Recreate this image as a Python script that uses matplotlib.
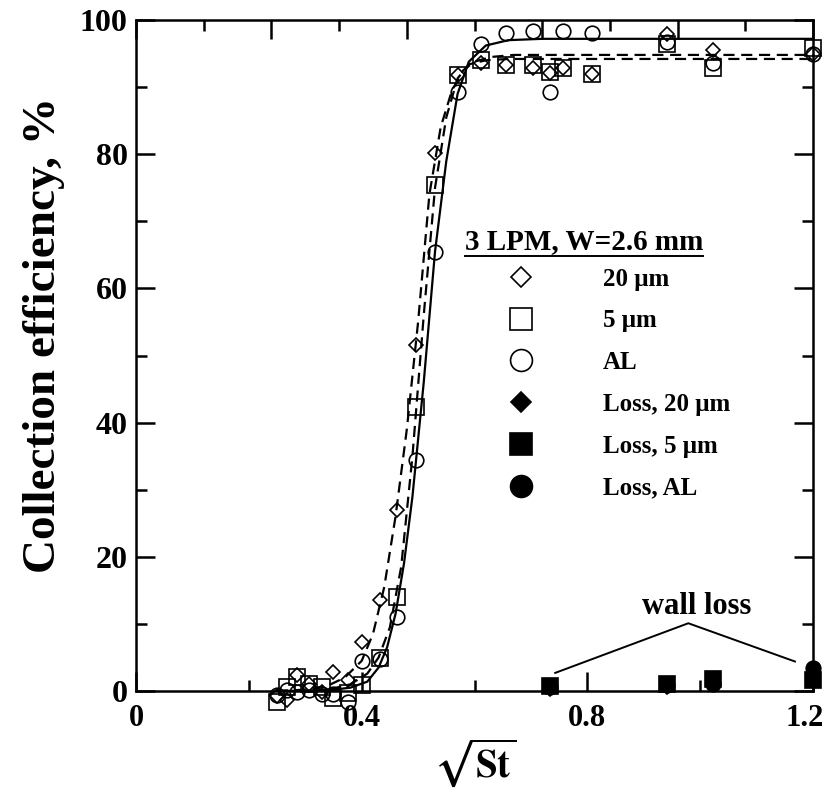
import matplotlib
matplotlib.use("Agg")
import matplotlib.pyplot as plt
from matplotlib.ticker import MultipleLocator
from matplotlib.lines import Line2D
from matplotlib.transforms import ScaledTranslation

plt.rcParams['font.family'] = ['Liberation Serif', 'DejaVu Serif']
plt.rcParams['font.weight'] = 'bold'
plt.rcParams['mathtext.fontset'] = 'stix'

## DATA
# sqrt(St) of the test points
st_root = [0.249, 0.267, 0.285, 0.307, 0.329, 0.350, 0.375, 0.400, 0.432, 0.462, 0.496,
           0.530, 0.571, 0.611, 0.656, 0.704, 0.734, 0.756, 0.809, 0.941, 1.023, 1.200]
eff_20um = [-0.8, -1.3, 2.4, 1.1, -0.1, 2.9, 1.6, 7.3, 13.5, 27.0, 51.6,
            80.2, 91.8, 93.6, 93.3, 92.8, 92.1, 92.9, 92.0, 97.9, 95.6, 95.0]
eff_5um = [-1.6, 0.6, 2.1, 1.1, 0.6, -1.1, -0.3, 0.9, 4.9, 14.0, 42.4,
           75.4, 91.8, 94.0, 93.3, 93.3, 92.3, 92.9, 92.0, 96.5, 92.8, 95.8]
eff_al = [-0.6, 0.2, -0.1, 0.1, -0.5, -0.5, -1.6, 4.4, 4.8, 11.0, 34.4,
          65.5, 89.3, 96.5, 98.0, 98.3, 89.3, 98.3, 98.1, 96.8, 93.6, 95.0]

# wall loss
loss_x = [0.734, 0.941, 1.023, 1.200]
loss_20um = [0.3, 0.6, 1.2, 2.0]
loss_5um = [0.8, 1.0, 1.8, 1.6]
loss_al = [0.6, 0.9, 1.1, 3.4]

# fitted curves
fit_al_x = [0.25, 0.30, 0.35, 0.38, 0.41, 0.43, 0.445, 0.46, 0.475, 0.49, 0.51,
            0.53, 0.55, 0.57, 0.59, 0.62, 0.66, 0.72, 0.80, 1.20]
fit_al_y = [0.0, 0.05, 0.2, 0.5, 1.4, 3.5, 6.5, 11.5, 19.0, 29.0, 46.0,
            65.5, 79.0, 89.0, 93.8, 96.2, 97.0, 97.2, 97.2, 97.2]
fit_20_x = [0.25, 0.30, 0.34, 0.37, 0.40, 0.42, 0.44, 0.46, 0.48, 0.50,
            0.52, 0.54, 0.56, 0.58, 0.60, 0.63, 0.67, 0.75, 1.20]
fit_20_y = [0.0, 0.2, 0.8, 2.0, 4.5, 8.5, 15.5, 26.0, 39.0, 55.0,
            74.0, 84.0, 89.5, 92.5, 93.8, 94.5, 94.8, 94.8, 94.8]
fit_5_x = [0.25, 0.30, 0.35, 0.38, 0.41, 0.43, 0.45, 0.47, 0.49, 0.51,
           0.53, 0.55, 0.57, 0.59, 0.62, 0.66, 0.75, 1.20]
fit_5_y = [0.0, 0.1, 0.4, 1.0, 2.6, 5.0, 9.5, 18.5, 35.0, 56.0,
           75.0, 85.5, 91.3, 93.4, 94.0, 94.2, 94.2, 94.2]

x_ticks = [0, 0.4, 0.8, 1.2]
x_ticklabels = ["0", "0.4", "0.8", "1.2"]

legend_title = "3 LPM, W=2.6 mm"
labels = ["20 \u03bcm", "5 \u03bcm", "AL", "Loss, 20 \u03bcm", "Loss, 5 \u03bcm", "Loss, AL"]

# "wall loss" note: text spot and the two leader lines
note_xy = (0.994, 12.6)
note_lines_x = [0.743, 0.979, 1.168]
note_lines_y = [2.7, 10.1, 4.4]

fig = plt.figure(figsize=(8.3, 7.92), dpi=100)
ax = fig.add_axes([0.1639, 0.1275, 0.8156, 0.8472])

ax.plot(fit_20_x, fit_20_y, 'k', lw=1.6, dashes=(5, 3))
ax.plot(fit_5_x, fit_5_y, 'k', lw=1.6, dashes=(5, 3))
ax.plot(fit_al_x, fit_al_y, 'k-', lw=1.6)

mk = dict(ls='none', mec='k', mew=1.2, clip_on=False)
h1, = ax.plot(st_root, eff_20um, 'D', ms=7, mfc='none', label=labels[0], **mk)
h2, = ax.plot(st_root, eff_5um, 's', ms=11, mfc='none', label=labels[1], **mk)
h3, = ax.plot(st_root, eff_al, 'o', ms=10.5, mfc='none', label=labels[2], **mk)
h4, = ax.plot(loss_x, loss_20um, 'D', ms=7, mfc='k', label=labels[3], **mk)
h5, = ax.plot(loss_x, loss_5um, 's', ms=11, mfc='k', label=labels[4], **mk)
h6, = ax.plot(loss_x, loss_al, 'o', ms=10.5, mfc='k', label=labels[5], **mk)

ax.plot(note_lines_x, note_lines_y, 'k-', lw=1.4)
ax.text(note_xy[0], note_xy[1], "wall loss", ha='center', va='center', fontsize=22, fontweight='bold')

ax.set_xlim(0, 1.2)
ax.set_ylim(0, 100)
ax.set_xticks(x_ticks, x_ticklabels)
ax.xaxis.set_minor_locator(MultipleLocator(0.2))
ax.yaxis.set_major_locator(MultipleLocator(20))
ax.yaxis.set_minor_locator(MultipleLocator(10))
ax.tick_params(which='both', direction='in', width=1.8, right=True, labelsize=23)
ax.tick_params(axis='x', labelsize=22)
ax.tick_params(which='major', length=14)
ax.tick_params(which='minor', length=8)
ax.tick_params(axis='x', pad=9)
ax.tick_params(axis='y', pad=6)
for s in ax.spines.values():
    s.set_linewidth(1.8)
ax.spines['top'].set_visible(False)
# last x label sits a little left of its tick, as in the original
last = ax.get_xticklabels()[-1]
last.set_transform(last.get_transform() + ScaledTranslation(-6 / 72, 0, fig.dpi_scale_trans))

top = ax.secondary_xaxis('top')
top.xaxis.set_major_locator(MultipleLocator(0.24))
top.xaxis.set_minor_locator(MultipleLocator(0.12))
top.tick_params(which='both', direction='in', width=1.8, labeltop=False)
top.tick_params(which='major', length=14)
top.tick_params(which='minor', length=8)
top.spines['top'].set_linewidth(1.8)

ax.set_xlabel(r"$\sqrt{\mathbf{St}}$", fontsize=28, labelpad=3)
ax.set_ylabel("Collection efficiency, %", fontsize=34, fontweight='bold')
ax.yaxis.set_label_coords(-0.105, 0.53)

leg = ax.legend(handles=[h1, h2, h3, h4, h5, h6], title=legend_title, loc='upper left',
                bbox_to_anchor=(0.486, 0.69), frameon=False, markerscale=1.5,
                prop={'size': 18, 'weight': 'bold'},
                title_fontproperties={'size': 21, 'weight': 'bold'},
                alignment='left', handlelength=4.5, handletextpad=1.0,
                labelspacing=0.75, borderpad=0, borderaxespad=0)
leg._legend_box.sep = 9

# underline the legend title
fig.canvas.draw()
bb = leg.get_title().get_window_extent()
fig.add_artist(Line2D([bb.x0, bb.x1], [bb.y0 - 1, bb.y0 - 1], transform=None, color='k', lw=1.4))

fig.savefig("out.png", dpi=100)
